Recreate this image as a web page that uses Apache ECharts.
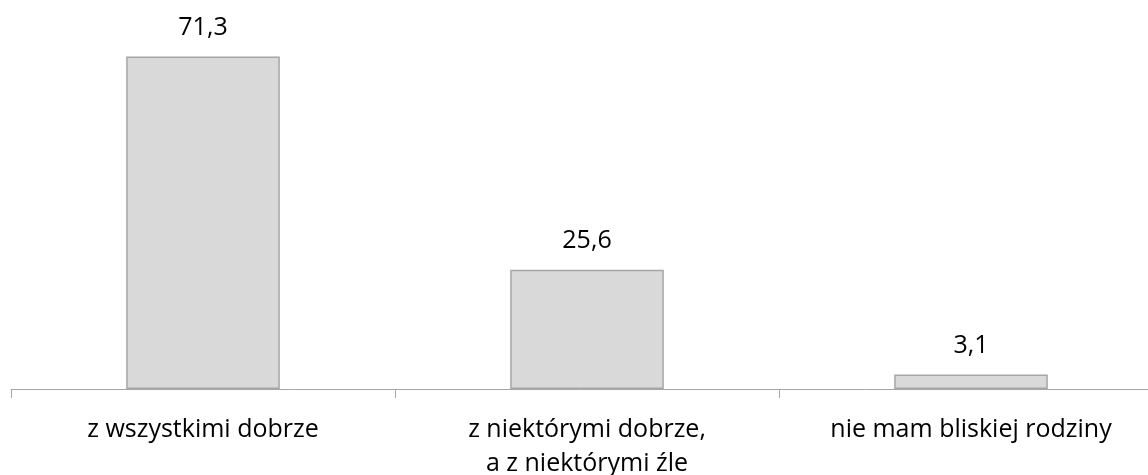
<!DOCTYPE html>
<html>
<head>
<meta charset="utf-8">
<style>
  html, body { margin: 0; padding: 0; background: #ffffff; }
  #chart { width: 1148px; height: 475px; }
</style>
<script src="https://cdn.jsdelivr.net/npm/echarts@6/dist/echarts.min.js"></script>
</head>
<body>
<div id="chart"></div>
<script>
// Relations with close family (percent of respondents)
const categories = ['z wszystkimi dobrze', 'z niektórymi dobrze,\na z niektórymi źle', 'nie mam bliskiej rodziny'];
const values = [71.3, 25.6, 3.1];

const FONT = 'Open Sans';
const chart = echarts.init(document.getElementById('chart'));

chart.setOption({
  animation: false,
  backgroundColor: '#ffffff',
  grid: { left: 11, width: 1152, top: 16, bottom: 86, outerBoundsMode: 'none', containLabel: false },
  xAxis: {
    type: 'category',
    data: categories,
    boundaryGap: true,
    axisLine: { show: true, lineStyle: { color: '#a6a6a6', width: 1 } },
    axisTick: { show: true, length: 9, lineStyle: { color: '#a6a6a6' } },
    axisLabel: {
      color: '#000000',
      fontFamily: FONT,
      fontSize: 25,
      lineHeight: 34,
      margin: 24,
      interval: 0,
      hideOverlap: false
    }
  },
  yAxis: {
    type: 'value',
    min: 0,
    max: 80,
    show: false,
    splitLine: { show: false }
  },
  series: [{
    type: 'bar',
    data: values,
    barWidth: '40%',
    itemStyle: { color: '#d9d9d9', borderColor: '#a6a6a6', borderWidth: 1.5 },
    label: {
      show: true,
      position: 'top',
      distance: 16,
      color: '#000000',
      fontFamily: FONT,
      fontSize: 25,
      formatter: p => String(p.value).replace('.', ',')
    }
  }]
});
</script>
</body>
</html>
